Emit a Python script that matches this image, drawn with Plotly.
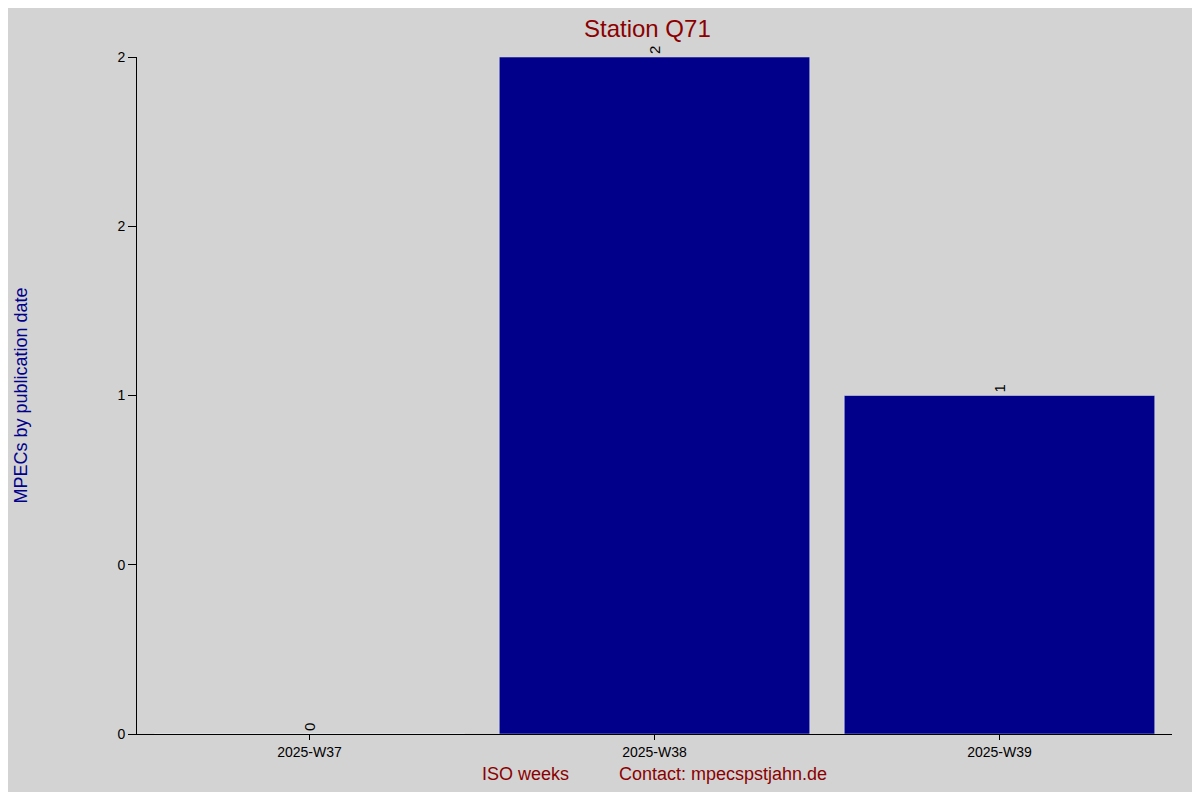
import plotly.graph_objects as go

weeks = ["2025-W37", "2025-W38", "2025-W39"]
counts = [0, 2, 1]
tick_vals = [0, 0.5, 1, 1.5, 2]
tick_text = ["0", "0", "1", "2", "2"]

fig = go.Figure()
fig.add_trace(go.Bar(x=weeks, y=counts, marker_color="#00008b", width=0.9,
                     text=[str(c) for c in counts], textposition="outside",
                     textangle=-90, textfont=dict(color="black", size=15),
                     cliponaxis=False))

fig.update_layout(
    width=1184, height=784,
    paper_bgcolor="#d3d3d3", plot_bgcolor="#d3d3d3",
    margin=dict(l=117, r=20, t=49, b=41),
    font=dict(family="Liberation Sans, Arial", size=14, color="black"),
    title=dict(text="Station Q71", x=0.54, xanchor="center", y=0.985,
               font=dict(size=24, color="#8b0000")),
    showlegend=False,
    bargap=0.1,
)
fig.update_xaxes(showline=True, linecolor="black", ticks="outside", ticklen=5,
                 tickcolor="black", showgrid=False,
                 title=dict(text="ISO weeks          Contact: mpecspstjahn.de",
                            font=dict(color="#8b0000", size=18), standoff=8))
fig.update_yaxes(range=[0, 2], tickvals=tick_vals, ticktext=tick_text,
                 showline=True, linecolor="black", ticks="outside", ticklen=8,
                 tickcolor="black", showgrid=False, zeroline=False,
                 title=dict(text="MPECs by publication date",
                            font=dict(color="#00008b", size=18), standoff=85))

fig.write_html("out.html")
